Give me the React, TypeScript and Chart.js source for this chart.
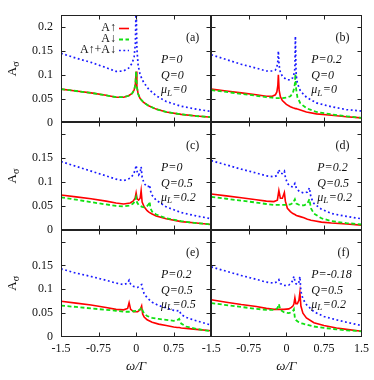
import React, { useEffect, useRef } from 'react';
import { Chart, registerables } from 'chart.js';

Chart.register(...registerables);

// ---------- data ----------
const xTickValues = [-1.5, -0.75, 0, 0.75, 1.5];
const xTickLabelsLeft = ['-1.5', '-0.75', '0', '0.75', ''];
const xTickLabelsRight = ['-1.5', '-0.75', '0', '0.75', '1.5'];
const yTickValues = [0, 0.05, 0.1, 0.15, 0.2];
const yTickLabelsTop = ['0', '0.05', '0.1', '0.15', '0.2'];
const yTickLabelsOther = ['0', '0.05', '0.1', '0.15', ''];
const xMin = -1.5;
const xMax = 1.5;
const yMin = 0;
const yMax = 0.225;

const legendLabels = ['A↑', 'A↓', 'A↑+A↓'];
const panelLabels = ['(a)', '(b)', '(c)', '(d)', '(e)', '(f)'];
const paramP = ['0', '0.2', '0', '0.2', '0.2', '-0.18'];
const paramQ = ['0', '0', '0.5', '0.5', '0.5', '0.5'];
const paramMu = ['0', '0', '0.2', '0.2', '0.5', '0.2'];
const xTitle = 'ω/Γ';
const yTitleMain = 'A';
const yTitleSub = 'σ';

// (a) P=0, Q=0, muL=0
const aX = [-1.5, -1.2, -0.9, -0.6, -0.4, -0.25, -0.15, -0.08, -0.04, -0.015, 0, 0.015, 0.04, 0.08, 0.15, 0.25, 0.4, 0.6, 0.9, 1.2, 1.5];
const aUp = [0.070, 0.066, 0.062, 0.057, 0.053, 0.053, 0.056, 0.061, 0.068, 0.080, 0.107, 0.075, 0.060, 0.050, 0.042, 0.035, 0.028, 0.022, 0.017, 0.0135, 0.011];
const aDown = [0.070, 0.066, 0.062, 0.057, 0.053, 0.053, 0.056, 0.061, 0.068, 0.080, 0.107, 0.075, 0.060, 0.050, 0.042, 0.035, 0.028, 0.022, 0.017, 0.0135, 0.011];
const aSum = [0.145, 0.135, 0.126, 0.115, 0.107, 0.108, 0.114, 0.124, 0.138, 0.165, 0.25, 0.155, 0.120, 0.100, 0.084, 0.070, 0.056, 0.044, 0.034, 0.028, 0.023];

// (b) P=0.2, Q=0, muL=0
const bX = [-1.5, -1.2, -0.9, -0.6, -0.4, -0.28, -0.22, -0.19, -0.17, -0.16, -0.145, -0.12, -0.08, 0, 0.08, 0.13, 0.16, 0.17, 0.18, 0.195, 0.22, 0.28, 0.4, 0.6, 0.9, 1.2, 1.5];
const bUp = [0.070, 0.066, 0.062, 0.058, 0.055, 0.055, 0.058, 0.064, 0.078, 0.100, 0.068, 0.054, 0.046, 0.038, 0.033, 0.031, 0.030, 0.030, 0.029, 0.029, 0.028, 0.026, 0.022, 0.018, 0.015, 0.012, 0.0096];
const bDown = [0.068, 0.064, 0.060, 0.056, 0.053, 0.052, 0.051, 0.051, 0.051, 0.051, 0.051, 0.051, 0.051, 0.052, 0.055, 0.062, 0.074, 0.082, 0.102, 0.070, 0.053, 0.040, 0.030, 0.022, 0.017, 0.013, 0.0096];
const bSum = [0.142, 0.132, 0.122, 0.114, 0.108, 0.108, 0.110, 0.116, 0.129, 0.150, 0.120, 0.105, 0.097, 0.090, 0.089, 0.094, 0.105, 0.114, 0.181, 0.100, 0.082, 0.066, 0.053, 0.041, 0.033, 0.027, 0.024];

// (c) P=0, Q=0.5, muL=0.2
const cX = [-1.5, -1.2, -0.9, -0.6, -0.4, -0.25, -0.12, -0.06, -0.02, 0, 0.02, 0.05, 0.08, 0.1, 0.12, 0.16, 0.22, 0.255, 0.27, 0.285, 0.32, 0.4, 0.6, 0.9, 1.2, 1.5];
const cUp = [0.073, 0.069, 0.065, 0.060, 0.056, 0.054, 0.056, 0.060, 0.066, 0.077, 0.065, 0.062, 0.066, 0.082, 0.058, 0.048, 0.040, 0.037, 0.036, 0.035, 0.033, 0.029, 0.023, 0.017, 0.014, 0.011];
const cDown = [0.068, 0.063, 0.058, 0.053, 0.050, 0.049, 0.051, 0.055, 0.060, 0.068, 0.057, 0.052, 0.050, 0.049, 0.048, 0.047, 0.050, 0.054, 0.059, 0.045, 0.038, 0.032, 0.024, 0.018, 0.014, 0.011];
const cSum = [0.143, 0.133, 0.123, 0.113, 0.106, 0.103, 0.108, 0.115, 0.125, 0.135, 0.122, 0.115, 0.120, 0.132, 0.110, 0.097, 0.090, 0.091, 0.094, 0.082, 0.072, 0.062, 0.048, 0.036, 0.029, 0.023];

// (d) P=0.2, Q=0.5, muL=0.2
const dX = [-1.5, -1.2, -0.9, -0.6, -0.4, -0.25, -0.18, -0.15, -0.12, -0.08, -0.04, -0.02, 0.02, 0.08, 0.13, 0.17, 0.2, 0.26, 0.35, 0.42, 0.46, 0.49, 0.55, 0.7, 0.9, 1.2, 1.5];
const dUp = [0.075, 0.071, 0.067, 0.063, 0.060, 0.059, 0.062, 0.082, 0.066, 0.066, 0.078, 0.060, 0.045, 0.038, 0.034, 0.032, 0.030, 0.028, 0.025, 0.022, 0.021, 0.020, 0.019, 0.016, 0.014, 0.012, 0.0096];
const dDown = [0.069, 0.065, 0.061, 0.057, 0.054, 0.052, 0.052, 0.052, 0.052, 0.052, 0.052, 0.052, 0.052, 0.053, 0.056, 0.064, 0.055, 0.052, 0.051, 0.055, 0.064, 0.045, 0.034, 0.024, 0.018, 0.014, 0.011];
const dSum = [0.145, 0.136, 0.127, 0.119, 0.113, 0.111, 0.114, 0.126, 0.118, 0.118, 0.123, 0.110, 0.097, 0.091, 0.090, 0.097, 0.087, 0.080, 0.077, 0.079, 0.088, 0.068, 0.055, 0.043, 0.034, 0.028, 0.023];

// (e) P=0.2, Q=0.5, muL=0.5
const eX = [-1.5, -1.2, -0.9, -0.6, -0.4, -0.25, -0.17, -0.14, -0.11, -0.05, 0.03, 0.08, 0.11, 0.13, 0.16, 0.22, 0.32, 0.45, 0.6, 0.75, 0.82, 0.86, 0.9, 1.0, 1.2, 1.5];
const eUp = [0.075, 0.071, 0.067, 0.062, 0.058, 0.057, 0.060, 0.072, 0.058, 0.053, 0.053, 0.057, 0.065, 0.048, 0.042, 0.036, 0.031, 0.027, 0.024, 0.021, 0.020, 0.020, 0.019, 0.018, 0.016, 0.013];
const eDown = [0.066, 0.063, 0.060, 0.057, 0.055, 0.053, 0.053, 0.053, 0.053, 0.054, 0.055, 0.058, 0.062, 0.055, 0.049, 0.044, 0.040, 0.038, 0.036, 0.034, 0.035, 0.038, 0.028, 0.022, 0.017, 0.012];
const eSum = [0.143, 0.134, 0.127, 0.119, 0.113, 0.110, 0.113, 0.119, 0.111, 0.106, 0.104, 0.108, 0.110, 0.100, 0.091, 0.082, 0.073, 0.066, 0.061, 0.056, 0.055, 0.056, 0.047, 0.041, 0.034, 0.025];

// (f) P=-0.18, Q=0.5, muL=0.2
const fX = [-1.5, -1.2, -0.9, -0.6, -0.4, -0.25, -0.18, -0.15, -0.12, -0.05, 0.05, 0.1, 0.13, 0.15, 0.17, 0.19, 0.22, 0.25, 0.27, 0.29, 0.33, 0.4, 0.55, 0.75, 1.0, 1.2, 1.5];
const fUp = [0.078, 0.073, 0.068, 0.064, 0.060, 0.058, 0.058, 0.058, 0.058, 0.058, 0.059, 0.062, 0.065, 0.069, 0.082, 0.070, 0.070, 0.077, 0.093, 0.065, 0.050, 0.040, 0.030, 0.024, 0.019, 0.016, 0.012];
const fDown = [0.071, 0.067, 0.063, 0.059, 0.057, 0.057, 0.060, 0.069, 0.057, 0.052, 0.050, 0.052, 0.054, 0.058, 0.040, 0.036, 0.033, 0.031, 0.030, 0.029, 0.028, 0.026, 0.022, 0.019, 0.016, 0.014, 0.012];
const fSum = [0.147, 0.138, 0.129, 0.121, 0.115, 0.113, 0.116, 0.120, 0.112, 0.108, 0.109, 0.114, 0.119, 0.127, 0.118, 0.112, 0.110, 0.115, 0.127, 0.096, 0.080, 0.068, 0.053, 0.043, 0.036, 0.031, 0.024];

// ---------- styles ----------
const SERIF = '"Liberation Serif", "DejaVu Serif", "Times New Roman", serif';
const TEXT = '#111';
const AXIS = '#222';
const RED = '#ff0000';
const GREEN = '#11e011';
const BLUE = '#1a1aff';
const paramOffsetX = [100, 100, 100, 106, 100, 100];

const panels = [
  { x: aX, up: aUp, down: aDown, sum: aSum, xAxisID: 'xL', yAxisID: 'y1' },
  { x: bX, up: bUp, down: bDown, sum: bSum, xAxisID: 'xR', yAxisID: 'y1' },
  { x: cX, up: cUp, down: cDown, sum: cSum, xAxisID: 'xL', yAxisID: 'y2' },
  { x: dX, up: dUp, down: dDown, sum: dSum, xAxisID: 'xR', yAxisID: 'y2' },
  { x: eX, up: eUp, down: eDown, sum: eSum, xAxisID: 'xL', yAxisID: 'y3' },
  { x: fX, up: fUp, down: fDown, sum: fSum, xAxisID: 'xR', yAxisID: 'y3' },
];

const seriesStyle = [
  { color: RED, width: 1.6, dash: [] as number[], order: 3 },
  { color: GREEN, width: 1.8, dash: [4, 2.5], order: 2 },
  { color: BLUE, width: 1.7, dash: [1.8, 2.6], order: 1 },
];

function buildDatasets() {
  const out: any[] = [];
  panels.forEach((p, pi) => {
    [p.up, p.down, p.sum].forEach((ys, si) => {
      const st = seriesStyle[si];
      out.push({
        label: legendLabels[si] + ' ' + panelLabels[pi],
        data: p.x.map((x, i) => ({ x, y: ys[i] })),
        xAxisID: p.xAxisID,
        yAxisID: p.yAxisID,
        borderColor: st.color,
        backgroundColor: st.color,
        borderWidth: st.width,
        borderDash: st.dash,
        pointRadius: 0,
        tension: 0,
        fill: false,
        clip: 0,
        order: st.order,
      });
    });
  });
  return out;
}

function xScale(labels: string[], weight: number) {
  return {
    type: 'linear',
    position: 'bottom',
    stack: 'cols',
    stackWeight: 1,
    weight,
    min: xMin,
    max: xMax,
    afterBuildTicks: (s: any) => {
      s.ticks = xTickValues.map((v) => ({ value: v }));
    },
    afterFit: (s: any) => {
      s.height = 43;
    },
    grid: { display: false, drawTicks: false },
    border: { display: false },
    ticks: {
      autoSkip: false,
      maxRotation: 0,
      padding: 5,
      color: TEXT,
      font: { family: SERIF, size: 12 },
      callback: (_v: any, i: number) => labels[i],
    },
    title: {
      display: true,
      text: xTitle,
      color: TEXT,
      font: { family: SERIF, size: 13, style: 'italic' },
      padding: { top: 0, bottom: 6 },
    },
  };
}

function yScale(labels: string[], weight: number) {
  return {
    type: 'linear',
    position: 'left',
    stack: 'rows',
    stackWeight: 1,
    weight,
    min: yMin,
    max: yMax,
    afterBuildTicks: (s: any) => {
      s.ticks = yTickValues.map((v) => ({ value: v }));
    },
    afterFit: (s: any) => {
      s.width = 61;
    },
    grid: { display: false, drawTicks: false },
    border: { display: false },
    ticks: {
      autoSkip: false,
      padding: 8,
      color: TEXT,
      font: { family: SERIF, size: 12 },
      callback: (_v: any, i: number) => labels[i],
    },
    title: { display: false },
  };
}

const panelPlugin = {
  id: 'panelDecor',
  afterDatasetsDraw(chart: any) {
    const ctx = chart.ctx;
    const xs = [chart.scales.xL, chart.scales.xR];
    const ys = [chart.scales.y1, chart.scales.y2, chart.scales.y3];
    ctx.save();

    // y axis titles A_sigma
    ys.forEach((ysc: any) => {
      const cy = (ysc.top + ysc.bottom) / 2;
      ctx.save();
      ctx.translate(13, cy);
      ctx.rotate(-Math.PI / 2);
      ctx.fillStyle = TEXT;
      ctx.textBaseline = 'middle';
      ctx.textAlign = 'left';
      ctx.font = `13px ${SERIF}`;
      const wA = ctx.measureText(yTitleMain).width;
      ctx.font = `10px ${SERIF}`;
      const wS = ctx.measureText(yTitleSub).width;
      const x0 = -(wA + wS) / 2;
      ctx.font = `13px ${SERIF}`;
      ctx.fillText(yTitleMain, x0, 0);
      ctx.font = `10px ${SERIF}`;
      ctx.fillText(yTitleSub, x0 + wA, 3);
      ctx.restore();
    });

    ys.forEach((ysc: any, r: number) => {
      xs.forEach((xsc: any, c: number) => {
        const idx = r * 2 + c;
        const L = Math.round(xsc.left) + 0.5;
        const R = Math.round(xsc.right) - 0.5;
        const T = Math.round(ysc.top) + 0.5;
        const B = Math.round(ysc.bottom) - 0.5;
        ctx.strokeStyle = AXIS;
        ctx.lineWidth = 1;
        ctx.setLineDash([]);
        ctx.strokeRect(L, T, R - L, B - T);
        ctx.beginPath();
        xTickValues.forEach((v) => {
          const px = Math.round(xsc.getPixelForValue(v)) + 0.5;
          if (px <= L + 1 || px >= R - 1) return;
          ctx.moveTo(px, B);
          ctx.lineTo(px, B - 4);
          ctx.moveTo(px, T);
          ctx.lineTo(px, T + 4);
        });
        yTickValues.forEach((v) => {
          const py = Math.round(ysc.getPixelForValue(v)) + 0.5;
          if (py >= B - 1 || py <= T + 1) return;
          ctx.moveTo(L, py);
          ctx.lineTo(L + 4, py);
          ctx.moveTo(R, py);
          ctx.lineTo(R - 4, py);
        });
        ctx.stroke();

        // panel label
        ctx.fillStyle = TEXT;
        ctx.font = `12px ${SERIF}`;
        ctx.textAlign = 'right';
        ctx.textBaseline = 'middle';
        ctx.fillText(panelLabels[idx], xsc.right - 12, ysc.top + 23);

        // parameter text
        const px0 = xsc.left + paramOffsetX[idx];
        ctx.textAlign = 'left';
        ctx.font = `italic 12px ${SERIF}`;
        ctx.fillText('P=' + paramP[idx], px0, ysc.top + 45);
        ctx.fillText('Q=' + paramQ[idx], px0, ysc.top + 61);
        const muY = ysc.top + 75;
        ctx.fillText('μ', px0, muY);
        const muW = ctx.measureText('μ').width;
        ctx.font = `italic 9px ${SERIF}`;
        ctx.fillText('L', px0 + muW, muY + 3);
        const lW = ctx.measureText('L').width;
        ctx.font = `italic 12px ${SERIF}`;
        ctx.fillText('=' + paramMu[idx], px0 + muW + lW + 0.5, muY);
      });
    });

    // legend in panel (a)
    const lx = xs[0].left;
    const ly = ys[0].top;
    const rowsY = [12.5, 23.5, 34.5];
    legendLabels.forEach((lab, i) => {
      const yy = ly + rowsY[i];
      ctx.fillStyle = TEXT;
      ctx.font = `12px ${SERIF}`;
      ctx.textAlign = 'right';
      ctx.textBaseline = 'middle';
      ctx.fillText(lab, lx + 55, yy);
      const st = seriesStyle[i];
      ctx.strokeStyle = st.color;
      ctx.lineWidth = st.width;
      ctx.setLineDash(st.dash);
      ctx.beginPath();
      ctx.moveTo(lx + 58, Math.round(yy) + 0.5);
      ctx.lineTo(lx + 68, Math.round(yy) + 0.5);
      ctx.stroke();
    });
    ctx.restore();
  },
};

export default function App() {
  const ref = useRef<HTMLCanvasElement | null>(null);
  useEffect(() => {
    if (!ref.current) return;
    const chart = new Chart(ref.current, {
      type: 'line',
      data: { datasets: buildDatasets() },
      options: {
        animation: false,
        responsive: false,
        devicePixelRatio: 1,
        layout: { padding: { left: 0, right: 10, top: 9, bottom: 0 } },
        plugins: {
          legend: { display: false },
          tooltip: { enabled: false },
        },
        scales: {
          xL: xScale(xTickLabelsLeft, 1),
          xR: xScale(xTickLabelsRight, 2),
          y1: yScale(yTickLabelsTop, 3),
          y2: yScale(yTickLabelsOther, 2),
          y3: yScale(yTickLabelsOther, 1),
        } as any,
      },
      plugins: [panelPlugin],
    } as any);
    return () => chart.destroy();
  }, []);
  return (
    <div style={{ position: 'absolute', left: 0, top: 0, width: 374, height: 380, background: '#fff' }}>
      <canvas ref={ref} width={374} height={380} style={{ display: 'block' }} />
    </div>
  );
}
